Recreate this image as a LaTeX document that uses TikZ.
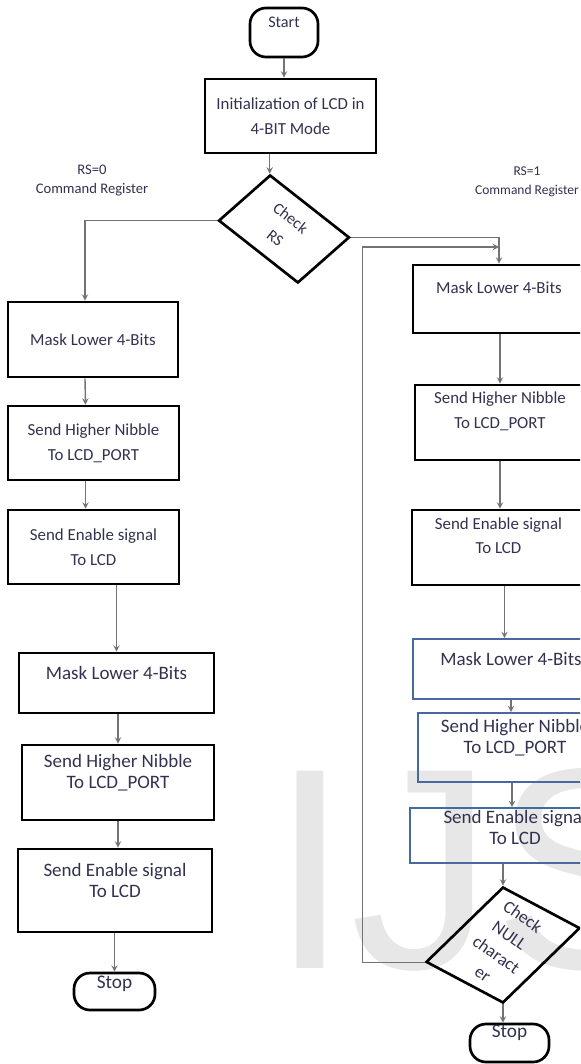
\documentclass[tikz,border=0pt]{standalone}
\usepackage{fontspec}
\setmainfont{Carlito}
\newfontfamily\wmfont{Liberation Sans}
\usetikzlibrary{arrows, shapes.geometric}
\definecolor{txtcol}{RGB}{50,50,80}
\definecolor{boxblue}{RGB}{70,105,160}
\definecolor{wmark}{RGB}{231,231,231}

\begin{document}
\begin{tikzpicture}[x=0.025cm, y=-0.025cm,
  box/.style = {draw, line width=1.9pt, text=txtcol, align=center},
  bluebox/.style = {draw=boxblue, line width=1.3pt},
  term/.style = {draw, line width=1.9pt, rounded corners=0.4cm},
  dec/.style = {draw, diamond, line width=1.9pt, inner sep=0pt},
  txt/.style = {text=txtcol, align=center},
  topfont/.style = {font=\fontsize{12}{17.5}\selectfont},
  lowfont/.style = {font=\fontsize{13.5}{15}\selectfont},
  stopfont/.style = {font=\fontsize{13.7}{16}\selectfont},
  flow/.style = {-stealth, draw=black!55, line width=1pt}]
  \clip (0,0) rectangle (580,1064);
  \node[anchor=base west, inner sep=0pt, text=wmark, font=\wmfont\fontsize{204}{204}\selectfont] (21) at (270,968) {IJS};

  \node[term, minimum width=1.7cm, minimum height=1.225cm, label={[txt, font=\fontsize{11.5}{14}\selectfont, yshift=7pt]center:Start}] (1) at (284,32.5) {};
  \node[box, topfont, minimum width=4.275cm, minimum height=1.85cm] (2) at (290.5,116) {Initialization of LCD in\\4-BIT Mode};
  \node[dec, minimum width=3.3cm, minimum height=2.79cm, cm={0.9917,-0.1287,-0.2509,0.9678,(0,0)}] (3) at (284,229) {};
  \node[txt, rotate=-38, font=\fontsize{11.5}{17.8}\selectfont] (3t) at (283,228) {Check\\RS};
  \node[txt, font=\fontsize{10.4}{13.5}\selectfont] (19) at (92,180.5) {RS=0\\Command Register};
  \node[txt, font=\fontsize{9.6}{13.5}\selectfont] (20) at (527,181.5) {RS=1\\Command Register};

  \node[box, topfont, minimum width=4.25cm, minimum height=1.875cm] (4) at (93,339.5) {Mask Lower 4-Bits};
  \node[box, topfont, minimum width=4.275cm, minimum height=1.85cm] (5) at (93.5,443) {Send Higher Nibble\\To LCD\_PORT};
  \node[box, topfont, minimum width=4.275cm, minimum height=1.85cm] (6) at (93.5,547) {Send Enable signal\\To LCD};
  \node[box, minimum width=4.875cm, minimum height=1.5cm, label={[txt, lowfont, yshift=7pt]center:Mask Lower 4-Bits}] (7) at (116.5,683) {};
  \node[box, minimum width=4.8cm, minimum height=1.875cm, label={[txt, lowfont, yshift=7pt]center:{Send Higher Nibble\\To LCD\_PORT}}] (8) at (118,782.5) {};
  \node[box, minimum width=4.85cm, minimum height=2.075cm, label={[txt, lowfont, yshift=7pt]center:{Send Enable signal\\To LCD}}] (9) at (115,890.5) {};
  \node[term, minimum width=2.025cm, minimum height=0.925cm, label={[txt, stopfont, yshift=5.7pt]center:Stop}] (10) at (114.5,991.5) {};

  \node[box, minimum width=4.3cm, minimum height=1.7cm, label={[txt, topfont, yshift=7.8pt]center:Mask Lower 4-Bits}] (11) at (499,299) {};
  \node[box, minimum width=4.25cm, minimum height=1.875cm, label={[txt, topfont, yshift=7.8pt]center:{Send Higher Nibble\\To LCD\_PORT}}] (12) at (500,422.5) {};
  \node[box, minimum width=4.325cm, minimum height=1.875cm, label={[txt, topfont, yshift=8.5pt]center:{Send Enable signal\\To LCD}}] (13) at (498.5,547.5) {};
  \node[bluebox, minimum width=4.9cm, minimum height=1.5cm, label={[txt, lowfont, yshift=7pt]center:Mask Lower 4-Bits}] (14) at (511,669) {};
  \node[bluebox, minimum width=4.85cm, minimum height=1.725cm, label={[txt, lowfont, yshift=7pt]center:{Send Higher Nibble\\To LCD\_PORT}}] (15) at (515,747.5) {};
  \node[bluebox, minimum width=5.25cm, minimum height=1.375cm, label={[txt, lowfont, yshift=5.7pt]center:{Send Enable signal\\To LCD}}] (16) at (515,835.5) {};
  \node[dec, minimum width=3.945cm, minimum height=2.9cm, cm={0.976,0.2155,0,1,(0,0)}] (17) at (503,945) {};
  \node[txt, rotate=-35, font=\fontsize{12.5}{16.5}\selectfont] (17t) at (503,945) {Check\\NULL\\charact\\er};
  \node[term, minimum width=1.975cm, minimum height=0.95cm, label={[txt, stopfont, yshift=7pt]center:Stop}] (18) at (509.5,1043) {};

  \draw[flow] (1.south) -- (1.south |- 2.north);
  \draw[flow] (2.south -| 3.north) -- (3.north);
  \draw[flow] (3.west) -| ([xshift=-0.2cm]4.north);
  \draw[flow] (3.east) -| (11.north);
  \draw[flow] ([xshift=-0.2cm]4.south) -- ([xshift=-0.2cm]5.north);
  \draw[flow] ([xshift=-0.2cm]5.south) -- ([xshift=-0.2cm]6.north);
  \draw[flow] (6.south -| 7.north) -- (7.north);
  \draw[flow] (7.south -| 8.north) -- (8.north);
  \draw[flow] (8.south) -- (8.south |- 9.north);
  \draw[flow] (9.south -| 10.north) -- (10.north);
  \draw[flow] (11.south -| 12.north) -- (12.north);
  \draw[flow] (12.south) -- (12.south |- 13.north);
  \draw[flow] ([xshift=0.15cm]13.south) -- ([xshift=0.15cm]13.south |- 14.north);
  \draw[flow] (14.south) -- (14.south |- 15.north);
  \draw[flow] ([xshift=-0.075cm]15.south) -- ([xshift=-0.075cm]15.south |- 16.north);
  \draw[flow] (16.south -| 17.north) -- (17.north);
  \draw[flow] (17.south) -- (17.south |- 18.north);
  \coordinate (j) at (499,247);
  \draw[flow] (17.west) -- ++(-62,0) |- (j);
\end{tikzpicture}
\end{document}
